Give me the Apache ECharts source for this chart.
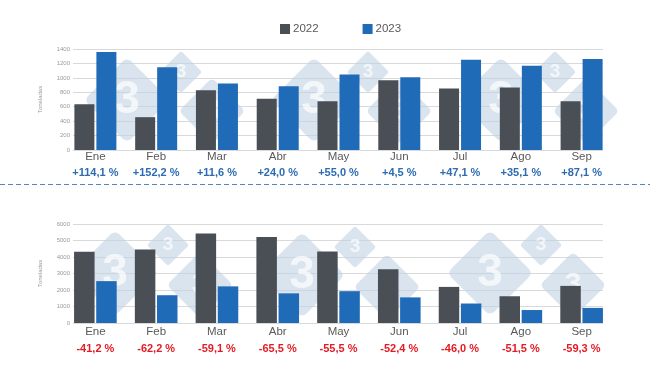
<!DOCTYPE html>
<html>
<head>
<meta charset="utf-8">
<script src="https://cdn.jsdelivr.net/npm/echarts@6/dist/echarts.min.js"></script>
<style>html,body{margin:0;padding:0;background:#fff}#c{width:650px;height:366px}</style>
</head>
<body>
<div id="c"></div>
<script>
const months = ['Ene','Feb','Mar','Abr','May','Jun','Jul','Ago','Sep'];
const top2022 = [635, 455, 827, 712, 675, 966, 851, 865, 675];
const top2023 = [1360, 1147, 923, 883, 1046, 1009, 1252, 1169, 1263];
const topPct = ['+114,1 %','+152,2 %','+11,6 %','+24,0 %','+55,0 %','+4,5 %','+47,1 %','+35,1 %','+87,1 %'];
const bot2022 = [4316, 4456, 5429, 5208, 4334, 3262, 2188, 1621, 2249];
const bot2023 = [2538, 1684, 2220, 1797, 1929, 1553, 1181, 786, 915];
const botPct = ['-41,2 %','-62,2 %','-59,1 %','-65,5 %','-55,5 %','-52,4 %','-46,0 %','-51,5 %','-59,3 %'];

const C22 = '#4a4e55', C23 = '#1f6bb8';
const FONT = 'Liberation Sans, Arial, sans-serif';

// decorative watermark (logo) placement
const wmSizes = {L: [61, 46], S: [30, 19], M: [47, 30]};
const wmTop = [[127,100,'L'],[181,72,'S'],[212,111,'M'],[314,100,'L'],[368,72,'S'],[399,111,'M'],[501,100,'L'],[555,72,'S'],[586,111,'M']];
const wmBot = [[115,273,'L'],[168,245,'S'],[200,285,'M'],[302,275,'L'],[355,247,'S'],[387,287,'M'],[490,273,'L'],[541,245,'S'],[573,285,'M']];

const graphics = [];
wmTop.concat(wmBot).forEach(([x,y,k]) => {
  const [s, f] = wmSizes[k];
  graphics.push({type:'rect', x:x, y:y, rotation:Math.PI/4, z:1, silent:true,
    shape:{x:-s/2, y:-s/2, width:s, height:s, r:s*0.1},
    style:{fill:'#bfd2e4', opacity:0.6}});
  graphics.push({type:'text', x:x, y:y, z:1, silent:true,
    style:{text:'3', fill:'#ffffff', opacity:0.7, font:'bold ' + f + 'px ' + FONT, textAlign:'center', textVerticalAlign:'middle'}});
});
graphics.push({type:'line', z:5, shape:{x1:0, y1:184.5, x2:650, y2:184.5},
  style:{stroke:'#4f87c2', lineWidth:1, lineDash:[5,3]}});

function gridAxisY(gi, max, interval){
  return {type:'value', gridIndex:gi, min:0, max:max, interval:interval,
    name:'Toneladas', nameLocation:'middle', nameGap:30, nameRotate:90,
    nameTextStyle:{fontSize:6, color:'#9a9a9a', fontFamily:FONT},
    axisLine:{show:false}, axisTick:{show:false},
    axisLabel:{fontSize:6, color:'#9a9a9a', margin:3, fontFamily:FONT, formatter:v=>String(v)},
    splitLine:{lineStyle:{color:'#d9d9d9', width:1}}};
}
function barAxisX(gi, pct, color, margin, lh){
  return {type:'category', gridIndex:gi, data:months,
    axisLine:{show:false}, axisTick:{show:false},
    axisLabel:{margin:margin, interval:0,
      formatter:(v,i)=>'{m|'+v+'}\n{p|'+pct[i]+'}',
      rich:{m:{fontSize:11.5, color:'#595959', lineHeight:lh, fontFamily:FONT},
            p:{fontSize:11, fontWeight:'bold', color:color, lineHeight:lh, fontFamily:FONT}}}};
}

const option = {
  animation:false,
  backgroundColor:'#fff',
  legend:{left:275, top:18, itemWidth:10, itemHeight:10, itemGap:44,
    icon:'rect', data:['2022','2023'],
    textStyle:{fontSize:11.5, color:'#595959', fontFamily:FONT, padding:[0,0,0,-2]}},
  grid:[
    {left:73, right:47, top:49, height:101},
    {left:65, right:38, top:49, height:101},
    {left:73, right:47, top:224, height:99},
    {left:65, right:38, top:224, height:99}
  ],
  xAxis:[
    {type:'category', gridIndex:0, data:months, show:false},
    barAxisX(1, topPct, '#2d6cb1', -1, 16),
    {type:'category', gridIndex:2, data:months, show:false},
    barAxisX(3, botPct, '#e31b23', 1, 16.5)
  ],
  yAxis:[
    gridAxisY(0, 1400, 200),
    {type:'value', gridIndex:1, min:0, max:1400, show:false},
    gridAxisY(2, 6000, 1000),
    {type:'value', gridIndex:3, min:0, max:6000, show:false}
  ],
  series:[
    {name:'2022', type:'bar', xAxisIndex:1, yAxisIndex:1, data:top2022, barWidth:20, barGap:'10%', itemStyle:{color:C22}, z:3},
    {name:'2023', type:'bar', xAxisIndex:1, yAxisIndex:1, data:top2023, barWidth:20, barGap:'10%', itemStyle:{color:C23}, z:3},
    {name:'2022', type:'bar', xAxisIndex:3, yAxisIndex:3, data:bot2022, barWidth:20.5, barGap:'8%', itemStyle:{color:C22}, z:3},
    {name:'2023', type:'bar', xAxisIndex:3, yAxisIndex:3, data:bot2023, barWidth:20.5, barGap:'8%', itemStyle:{color:C23}, z:3}
  ],
  graphic:graphics
};
const chart = echarts.init(document.getElementById('c'), null, {renderer:'canvas'});
chart.setOption(option);
</script>
</body>
</html>
